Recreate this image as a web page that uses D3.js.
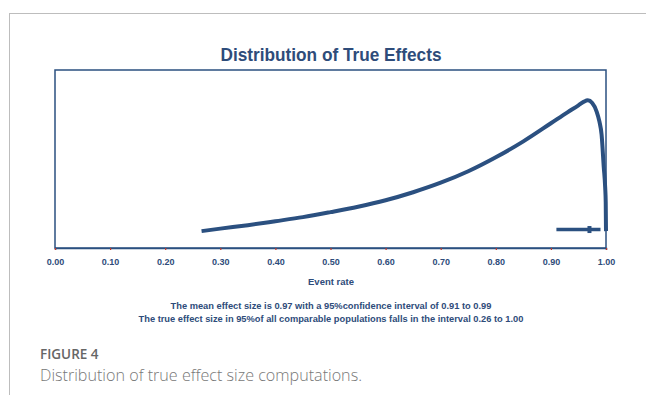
<!DOCTYPE html>
<html>
<head>
<meta charset="utf-8">
<script src="https://cdn.jsdelivr.net/npm/d3@7"></script>
<style>
  body { margin: 0; background: #fff; }
  svg { display: block; }
</style>
</head>
<body>
<div id="chart"></div>
<script>
// curve of true effects (density scaled so peak = 1)
const curveX = [0.266, 0.30, 0.35, 0.40, 0.45, 0.50, 0.55, 0.60, 0.65, 0.70, 0.75, 0.80, 0.85, 0.90, 0.93, 0.95, 0.96, 0.967, 0.975, 0.983, 0.988, 0.992, 0.996, 0.9985, 0.9995, 1.0];
const curveY = [0.008, 0.027, 0.053, 0.083, 0.114, 0.152, 0.193, 0.242, 0.303, 0.375, 0.462, 0.568, 0.689, 0.826, 0.909, 0.962, 0.99, 1.0, 0.98, 0.915, 0.84, 0.74, 0.49, 0.34, 0.227, 0.008];
const ciLow = 0.91, ciHigh = 0.99, meanEffect = 0.97;
const xTicks = [0, 0.1, 0.2, 0.3, 0.4, 0.5, 0.6, 0.7, 0.8, 0.9, 1.0];
const notes = [
  "The mean effect size is 0.97 with a 95%confidence interval of 0.91 to 0.99",
  "The true effect size in 95%of all comparable populations falls in the interval 0.26 to 1.00"
];

const W = 646, H = 409;
const blue = "#2b5080", textBlue = "#2e4c7a";
const margin = {top: 70, left: 55, right: 40, bottom: 161};
const width = W - margin.left - margin.right,   // 551
      height = H - margin.top - margin.bottom;   // 178

const svg = d3.select("#chart").append("svg")
  .attr("width", W).attr("height", H);

// card edges
svg.append("line").attr("x1", 9).attr("x2", W).attr("y1", 13.5).attr("y2", 13.5)
  .attr("stroke", "#bdbdbd").attr("stroke-width", 1);
svg.append("line").attr("x1", 9.5).attr("x2", 9.5).attr("y1", 13).attr("y2", 395)
  .attr("stroke", "#bdbdbd").attr("stroke-width", 1);

// title
svg.append("text")
  .attr("x", 331).attr("y", 61)
  .attr("text-anchor", "middle")
  .attr("textLength", 221).attr("lengthAdjust", "spacingAndGlyphs")
  .style("font-family", "'Liberation Sans', Arial, sans-serif")
  .style("font-weight", "bold").style("font-size", "19px")
  .attr("fill", textBlue)
  .text("Distribution of True Effects");

const g = svg.append("g")
  .attr("transform", "translate(" + margin.left + "," + margin.top + ")");

const x = d3.scaleLinear().domain([0, 1]).range([0, width]);
const y = d3.scaleLinear().domain([-0.12, 1.23]).range([height, 0]);

// plot frame
g.append("rect")
  .attr("x", 0).attr("y", 0).attr("width", width).attr("height", height)
  .attr("fill", "none").attr("stroke", blue).attr("stroke-width", 1.5);

// x axis
const xAxis = d3.axisBottom(x).tickValues(xTicks).tickSize(2).tickFormat(d3.format(".2f"));
const ax = g.append("g")
  .attr("transform", "translate(0," + height + ")")
  .call(xAxis);
ax.select(".domain").attr("stroke", blue).attr("stroke-width", 1.5);
ax.selectAll(".tick line").attr("stroke", "#c0392b").attr("stroke-width", 1.2);
ax.selectAll(".tick text")
  .attr("y", 11)
  .style("font-family", "'Liberation Sans', Arial, sans-serif")
  .style("font-weight", "bold").style("font-size", "9px")
  .attr("fill", textBlue);

g.append("text")
  .attr("x", x(0.5) + 0.5).attr("y", height + 37)
  .attr("text-anchor", "middle")
  .style("font-family", "'Liberation Sans', Arial, sans-serif")
  .style("font-weight", "bold").style("font-size", "9.5px")
  .attr("fill", textBlue)
  .text("Event rate");

// density curve
const curveData = curveX.map((d, i) => [d, curveY[i]]);
const line = d3.line()
  .x(d => x(d[0]))
  .y(d => y(d[1]))
  .curve(d3.curveMonotoneX);

g.append("path")
  .datum(curveData)
  .attr("d", line)
  .attr("fill", "none")
  .attr("stroke", blue)
  .attr("stroke-width", 4);

// confidence interval and mean
const ciY = y(0.02);
g.append("line")
  .attr("x1", x(ciLow)).attr("x2", x(ciHigh))
  .attr("y1", ciY).attr("y2", ciY)
  .attr("stroke", blue).attr("stroke-width", 3.5);
g.append("rect")
  .attr("x", x(meanEffect) - 2).attr("y", ciY - 3.5)
  .attr("width", 4).attr("height", 7)
  .attr("fill", blue);

// notes
svg.selectAll(".note")
  .data(notes)
  .enter().append("text")
  .attr("class", "note")
  .attr("x", 331).attr("y", (d, i) => 309 + i * 13)
  .attr("text-anchor", "middle")
  .style("font-family", "'Liberation Sans', Arial, sans-serif")
  .style("font-weight", "bold").style("font-size", "9.3px")
  .attr("fill", textBlue)
  .text(d => d);

// figure caption
svg.append("text")
  .attr("x", 40).attr("y", 359)
  .style("font-family", "'Open Sans', sans-serif")
  .style("font-weight", 600).style("font-size", "13.5px")
  .attr("fill", "#666")
  .text("FIGURE 4");
svg.append("text")
  .attr("x", 40).attr("y", 381)
  .attr("textLength", 322).attr("lengthAdjust", "spacingAndGlyphs")
  .style("font-family", "'Open Sans', sans-serif")
  .style("font-weight", 300).style("font-size", "17px")
  .attr("fill", "#777")
  .text("Distribution of true effect size computations.");
</script>
</body>
</html>
